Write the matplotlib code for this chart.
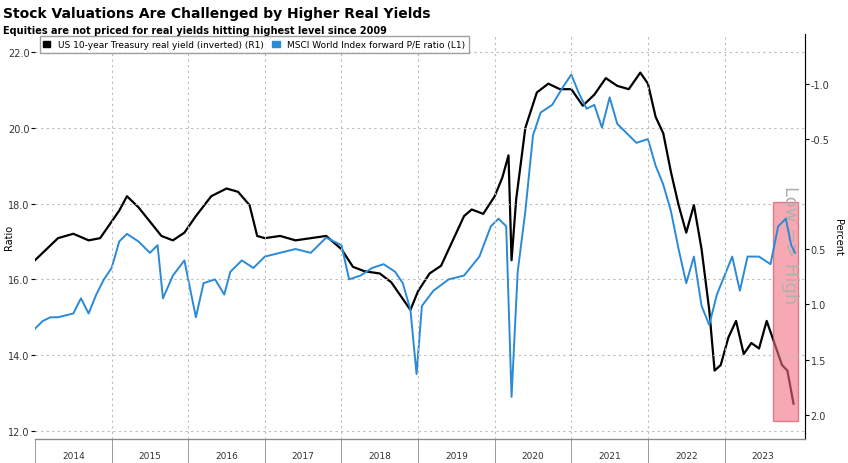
import matplotlib
matplotlib.use("Agg")
import matplotlib.pyplot as plt
from matplotlib.patches import Rectangle

# Real yield (inverted, right axis, percent)
ry_t = [2014.0,2014.15,2014.3,2014.5,2014.7,2014.85,2015.0,2015.1,2015.2,2015.35,2015.5,2015.65,2015.8,2015.95,2016.1,2016.3,2016.5,2016.65,2016.8,2016.9,2017.0,2017.2,2017.4,2017.6,2017.8,2018.0,2018.15,2018.3,2018.5,2018.65,2018.8,2018.9,2019.0,2019.15,2019.3,2019.5,2019.6,2019.7,2019.85,2020.0,2020.1,2020.18,2020.22,2020.28,2020.4,2020.55,2020.7,2020.85,2021.0,2021.15,2021.3,2021.45,2021.6,2021.75,2021.9,2022.0,2022.1,2022.2,2022.3,2022.4,2022.5,2022.6,2022.7,2022.8,2022.87,2022.95,2023.05,2023.15,2023.25,2023.35,2023.45,2023.55,2023.65,2023.75,2023.82,2023.9]
ry_v = [0.60,0.50,0.40,0.36,0.42,0.40,0.25,0.15,0.02,0.12,0.25,0.38,0.42,0.35,0.20,0.02,-0.05,-0.02,0.10,0.38,0.40,0.38,0.42,0.40,0.38,0.50,0.66,0.70,0.72,0.80,0.95,1.05,0.88,0.72,0.65,0.35,0.20,0.14,0.18,0.02,-0.15,-0.35,0.60,0.05,-0.60,-0.92,-1.00,-0.95,-0.95,-0.80,-0.90,-1.05,-0.98,-0.95,-1.10,-1.00,-0.70,-0.55,-0.20,0.10,0.35,0.10,0.50,1.05,1.60,1.55,1.30,1.15,1.45,1.35,1.40,1.15,1.35,1.55,1.60,1.90]
# MSCI World forward P/E (left axis)
pe_t = [2014.0,2014.1,2014.2,2014.3,2014.5,2014.6,2014.7,2014.8,2014.9,2015.0,2015.1,2015.2,2015.35,2015.5,2015.6,2015.67,2015.8,2015.95,2016.1,2016.2,2016.35,2016.47,2016.55,2016.7,2016.85,2017.0,2017.2,2017.4,2017.6,2017.8,2018.0,2018.1,2018.25,2018.4,2018.55,2018.7,2018.8,2018.9,2018.98,2019.05,2019.2,2019.4,2019.6,2019.8,2019.95,2020.05,2020.15,2020.22,2020.3,2020.4,2020.5,2020.6,2020.75,2020.9,2021.0,2021.1,2021.2,2021.3,2021.4,2021.5,2021.6,2021.7,2021.85,2022.0,2022.1,2022.2,2022.3,2022.4,2022.5,2022.6,2022.7,2022.8,2022.9,2023.0,2023.1,2023.2,2023.3,2023.45,2023.6,2023.7,2023.8,2023.87,2023.92]
pe_v = [14.7,14.9,15.0,15.0,15.1,15.5,15.1,15.6,16.0,16.3,17.0,17.2,17.0,16.7,16.9,15.5,16.1,16.5,15.0,15.9,16.0,15.6,16.2,16.5,16.3,16.6,16.7,16.8,16.7,17.1,16.9,16.0,16.1,16.3,16.4,16.2,15.9,15.2,13.5,15.3,15.7,16.0,16.1,16.6,17.4,17.6,17.4,12.9,16.2,17.8,19.8,20.4,20.6,21.1,21.4,20.9,20.5,20.6,20.0,20.8,20.1,19.9,19.6,19.7,19.0,18.5,17.8,16.8,15.9,16.6,15.3,14.8,15.6,16.1,16.6,15.7,16.6,16.6,16.4,17.4,17.6,16.9,16.7]
years = [2014,2015,2016,2017,2018,2019,2020,2021,2022,2023]

fig = plt.figure(figsize=(8.48,4.64), dpi=100)
ax = fig.add_axes([35/848, 24/464, 770/848, 405/464])
ax2 = ax.twinx()
ax.set_xlim(2014.0, 2024.05)
ax.set_ylim(11.79, 22.47)
ax2.set_ylim(2.22, -1.45)
ax.set_zorder(2); ax.patch.set_visible(False)

ax2.plot(ry_t, ry_v, color="black", lw=1.6)
ax.plot(pe_t, pe_v, color="#2a8ad8", lw=1.4)
ax2.add_patch(Rectangle((2023.63, 0.07), 0.33, 1.99, facecolor="#f07080", alpha=0.6, edgecolor="#d04050", lw=1, zorder=5))
ax2.text(2023.85, 0.45, "Low => High", rotation=270, color="#b0b0b0", fontsize=13, ha="center", va="center", zorder=6)

ax.set_yticks([12,14,16,18,20,22])
ax.set_yticklabels([f"{v:.1f}" for v in [12,14,16,18,20,22]], fontsize=7, color="#333")
ax2.set_yticks([-1.0,-0.5,0.5,1.0,1.5,2.0])
ax2.set_yticklabels(["-1.0","-0.5","0.5","1.0","1.5","2.0"], fontsize=7, color="#333")
ax.grid(axis="y", ls=(0,(2,3)), color="#bbb", lw=0.8)
for y in years[1:]:
    ax.axvline(y, ls=(0,(2,3)), color="#bbb", lw=0.8)
ax.set_xticks(years + [2024])
ax.set_xticklabels([])
ax.tick_params(axis="x", length=0)
for y in years:
    ax.text(y+0.5, -0.03, str(y), transform=ax.get_xaxis_transform(), ha="center", va="top", fontsize=6.5, color="#333")
    ax.plot([y, y], [-0.06, 0], transform=ax.get_xaxis_transform(), color="#999", lw=0.7, clip_on=False)
ax.set_ylabel("Ratio", fontsize=7)
ax.yaxis.set_label_coords(-0.027, 0.5)
ax2.set_ylabel("Percent", fontsize=7, rotation=270, labelpad=10)
for a in (ax, ax2):
    a.spines["top"].set_visible(False)
    a.spines["left"].set_visible(False)
ax2.spines["right"].set_color("#888")
ax.spines["bottom"].set_color("#888")
ax.tick_params(axis="y", length=3, pad=1)
ax2.tick_params(axis="y", length=3, pad=1)

leg = ax.legend(handles=[plt.Rectangle((0,0),1,1,color="black"), plt.Rectangle((0,0),1,1,color="#2a8ad8")],
                labels=["US 10-year Treasury real yield (inverted) (R1)", "MSCI World Index forward P/E ratio (L1)"],
                loc="upper left", bbox_to_anchor=(0.0, 1.005), ncol=2, fontsize=6.5, frameon=True, fancybox=False,
                edgecolor="#888", handlelength=0.8, handleheight=0.8, columnspacing=1.0, borderpad=0.4)
fig.text(0.004, 0.985, "Stock Valuations Are Challenged by Higher Real Yields", fontsize=10, fontweight="bold", va="top")
fig.text(0.004, 0.945, "Equities are not priced for real yields hitting highest level since 2009", fontsize=7, fontweight="bold", va="top")
fig.savefig("out.png", dpi=100)
